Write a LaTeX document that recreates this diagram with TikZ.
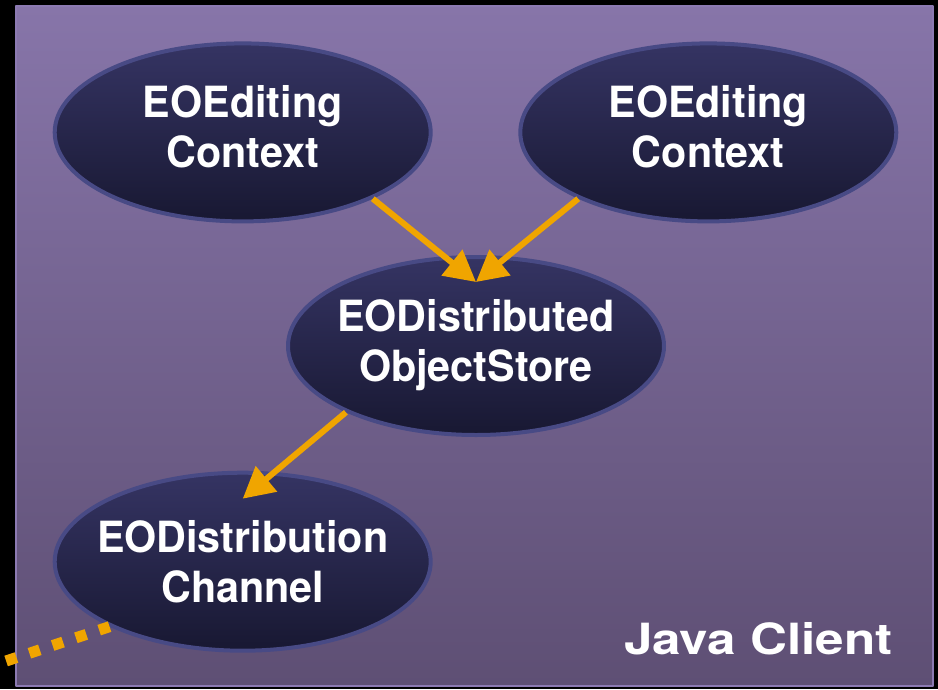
\documentclass[tikz,border=0pt]{standalone}
\usepackage{fontspec}
\setmainfont{TeX Gyre Heros}
\newfontfamily\eofont{TeX Gyre Heros}[FakeStretch=0.96]
\newfontfamily\sidefont{TeX Gyre Heros}[FakeStretch=1.19]
\usetikzlibrary{shapes.geometric,arrows.meta}
\definecolor{panetop}{RGB}{135,117,169}
\definecolor{panebot}{RGB}{94,79,116}
\definecolor{paneedge}{RGB}{140,122,178}
\definecolor{eotop}{RGB}{53,52,99}
\definecolor{eobot}{RGB}{24,24,50}
\definecolor{eoedge}{RGB}{72,74,133}
\definecolor{eoorange}{RGB}{240,165,0}
\begin{document}
\begin{tikzpicture}[x=1pt,y=-1pt,line join=round,>={Triangle[length=31pt,width=32pt]},
	eonode/.style={ellipse,draw=eoedge,line width=4pt,top color=eotop,bottom color=eobot,
		minimum width=376pt,minimum height=178pt,inner xsep=-16pt,inner ysep=0pt,
		align=center,text=white,font=\eofont\fontsize{43}{50}\selectfont\bfseries},
	eolift/.style={execute at end node={\rule[-11pt]{0pt}{0pt}}},
	eodrop/.style={execute at begin node={\rule{0pt}{39pt}}},
	flow/.style={->,draw=eoorange,line width=6pt},
	wire/.style={draw=eoorange,line width=11pt,dash pattern=on 11pt off 13.5pt}]
	\clip (0,0) rectangle (938,689);
	\fill[black] (0,0) rectangle (938,689);
	\draw[paneedge,line width=2pt,top color=panetop,bottom color=panebot] (16,6) rectangle (933,686);
	% editing contexts, object store, channel
	\node[eonode,eolift] (ec1) at (242.7,132.4) {EOEditing\\Context};
	\node[eonode,eolift] (ec2) at (708.3,132.4) {EOEditing\\Context};
	\node[eonode,eolift] (store) at (476,346) {EODistributed\\ObjectStore};
	\node[eonode,eodrop] (chan) at (242.7,561.7) {EODistribution\\Channel};
	\node[anchor=base east,text=white,font=\sidefont\fontsize{43}{50}\selectfont\bfseries] (side) at (896,654) {Java Client};
	\coordinate (far) at (-15,668);
	% connectors
	\draw[flow] (ec1.-27) -- ([yshift=64pt]store.center);
	\draw[flow] (ec2.-153.4) -- ([yshift=64pt]store.center);
	\draw[flow] (store.207.2) -- ([yshift=63pt]chan.center);
	\draw[wire] (chan.206) -- (far);
\end{tikzpicture}
\end{document}
